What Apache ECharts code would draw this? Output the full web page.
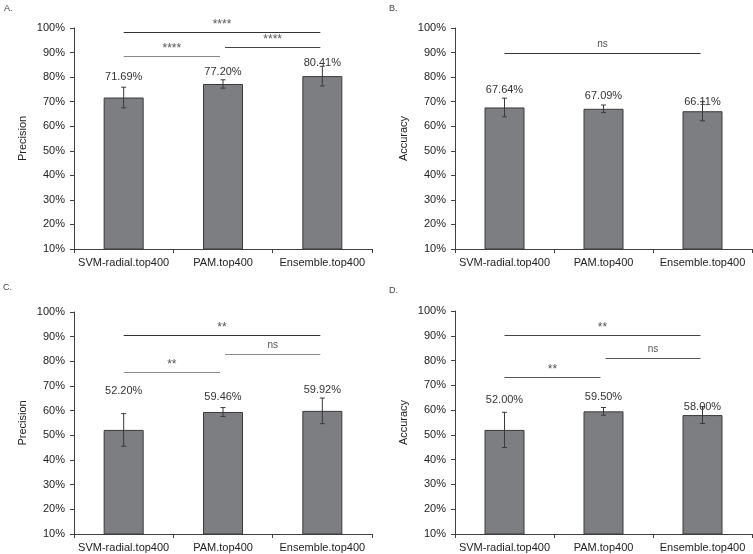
<!DOCTYPE html>
<html>
<head>
<meta charset="utf-8">
<script src="https://cdn.jsdelivr.net/npm/echarts@6/dist/echarts.min.js"></script>
<style>
html,body{margin:0;padding:0;background:#fff;}
#chart{width:753px;height:554px;}
</style>
</head>
<body>
<div id="chart"></div>
<script>
// ---- data ----
const categories = ['SVM-radial.top400', 'PAM.top400', 'Ensemble.top400'];
const yTickMin = 10, yTickMax = 100, yTickStep = 10;

const precisionA = [71.69, 77.20, 80.41];
const errorA     = [4.2, 1.7, 4.0];
const accuracyB  = [67.64, 67.09, 66.11];
const errorB     = [3.8, 1.55, 3.9];
const precisionC = [52.20, 59.46, 59.92];
const errorC     = [6.6, 1.8, 5.2];
const accuracyD  = [52.00, 59.50, 58.00];
const errorD     = [7.1, 1.55, 3.4];

// significance brackets: [fromIndex, toIndex, yValue, label]
const sigA = [[0, 2, 98.3, '****'], [0, 1, 88.4, '****'], [1, 2, 92.2, '****']];
const sigB = [[0, 2, 89.9, 'ns']];
const sigC = [[0, 2, 90.8, '**'], [1, 2, 82.9, 'ns'], [0, 1, 75.8, '**']];
const sigD = [[0, 2, 90.3, '**'], [1, 2, 81.1, 'ns'], [0, 1, 73.2, '**']];

// ---- styling / layout ----
const FONT = '"Liberation Sans", Arial, sans-serif';
const panels = [
  {letter: 'A.', lx: 4, ly: 4, title: 'Precision', vals: precisionA, errs: errorA, sig: sigA,
   grid: {left: 74, top: 28, width: 298, height: 221},
   labelGap: [15, 7, 8], sigColors: ['#333', '#8a8a8a', '#444']},
  {letter: 'B.', lx: 389, ly: 4, title: 'Accuracy', vals: accuracyB, errs: errorB, sig: sigB,
   grid: {left: 455, top: 28, width: 297, height: 221},
   labelGap: [12, 7, 4], sigColors: ['#333']},
  {letter: 'C.', lx: 3, ly: 283, title: 'Precision', vals: precisionC, errs: errorC, sig: sigC,
   grid: {left: 74, top: 312, width: 298, height: 222},
   labelGap: [33, 10, 15], sigColors: ['#333', '#8a8a8a', '#8a8a8a']},
  {letter: 'D.', lx: 389, ly: 286, title: 'Accuracy', vals: accuracyD, errs: errorD, sig: sigD,
   grid: {left: 455, top: 311, width: 297, height: 223},
   labelGap: [24, 9, 3], sigColors: ['#444', '#555', '#555']}
];

const grids = [], xAxes = [], yAxes = [], series = [], graphics = [];

panels.forEach((p, i) => {
  grids.push(Object.assign({containLabel: false}, p.grid));
  xAxes.push({
    type: 'category', gridIndex: i, data: categories, boundaryGap: true,
    axisLine: {lineStyle: {color: '#404040', width: 1}},
    axisTick: {show: true, length: 4, lineStyle: {color: '#404040'}},
    axisLabel: {color: '#222', fontFamily: FONT, fontSize: 11, margin: 8, interval: 0},
    splitLine: {show: false}
  });
  yAxes.push({
    type: 'value', gridIndex: i, min: yTickMin, max: yTickMax, interval: yTickStep,
    name: p.title, nameLocation: 'middle', nameGap: 46,
    nameTextStyle: {color: '#222', fontFamily: FONT, fontSize: 11},
    axisLine: {show: true, lineStyle: {color: '#404040', width: 1}},
    axisTick: {show: true, length: 4, lineStyle: {color: '#404040'}},
    axisLabel: {color: '#222', fontFamily: FONT, fontSize: 11, margin: 9,
                formatter: v => v + '%'},
    splitLine: {show: false}
  });
  series.push({
    type: 'bar', xAxisIndex: i, yAxisIndex: i,
    barWidth: 40,
    data: p.vals.map((v, k) => ({
      value: v,
      label: {distance: p.labelGap[k]}
    })),
    itemStyle: {color: '#7d7e82', borderColor: '#3a3a3a', borderWidth: 1},
    label: {show: true, position: 'top', color: '#333', fontFamily: FONT, fontSize: 11,
            formatter: o => o.value.toFixed(2) + '%'},
    z: 2
  });
  series.push({
    type: 'custom', xAxisIndex: i, yAxisIndex: i,
    data: p.vals.map((v, k) => [k, v, p.errs[k]]),
    encode: {x: 0, y: 1},
    z: 5,
    renderItem: (params, api) => {
      const k = api.value(0), v = api.value(1), e = api.value(2);
      const t = api.coord([k, v + e]), b = api.coord([k, v - e]);
      const c = 2.5;
      const st = {stroke: '#3a3a3a', lineWidth: 1};
      return {type: 'group', children: [
        {type: 'line', shape: {x1: t[0], y1: t[1], x2: b[0], y2: b[1]}, style: st},
        {type: 'line', shape: {x1: t[0] - c, y1: t[1], x2: t[0] + c, y2: t[1]}, style: st},
        {type: 'line', shape: {x1: b[0] - c, y1: b[1], x2: b[0] + c, y2: b[1]}, style: st}
      ]};
    }
  });
  series.push({
    type: 'custom', xAxisIndex: i, yAxisIndex: i,
    data: p.sig.map(s => s.slice()),
    encode: {x: [0, 1], y: 2},
    z: 6,
    renderItem: (params, api) => {
      const s = p.sig[params.dataIndex];
      const a = api.coord([s[0], s[2]]), b = api.coord([s[1], s[2]]);
      const x1 = a[0] + (s[0] === 1 ? 2 : 0);
      const x2 = b[0] - (s[1] === 1 ? 3 : 2);
      const color = p.sigColors[params.dataIndex];
      const y = Math.round(a[1]) + 0.5;
      const isStar = s[3].indexOf('*') >= 0;
      return {type: 'group', children: [
        {type: 'line', shape: {x1: x1, y1: y, x2: x2, y2: y},
         style: {stroke: color, lineWidth: 1}},
        {type: 'text', style: {
          text: s[3], x: (x1 + x2) / 2, y: y - (isStar ? 2 : 4),
          textAlign: 'center', textVerticalAlign: 'bottom',
          fill: '#555', font: (isStar ? '12px ' : '10px ') + FONT
        }}
      ]};
    }
  });
  graphics.push({type: 'text', left: p.lx, top: p.ly,
    style: {text: p.letter, fill: '#444', font: '9px ' + FONT}});
});

const chart = echarts.init(document.getElementById('chart'), null, {renderer: 'canvas'});
chart.setOption({
  animation: false,
  backgroundColor: '#ffffff',
  grid: grids, xAxis: xAxes, yAxis: yAxes, series: series, graphic: graphics
});
</script>
</body>
</html>
